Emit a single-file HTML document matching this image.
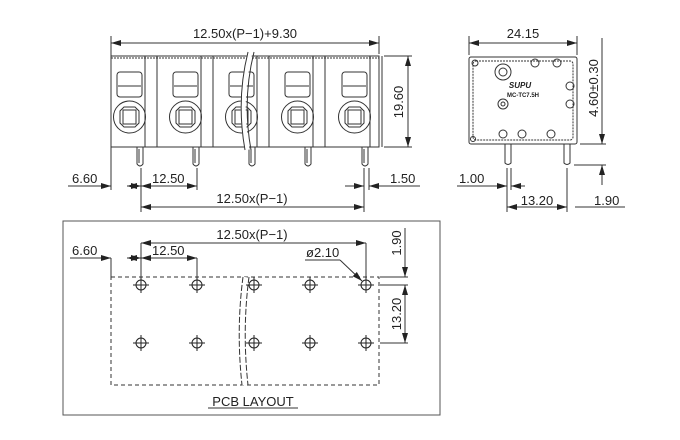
<!DOCTYPE html>
<html><head><meta charset="utf-8"><style>
html,body{margin:0;padding:0;background:#fff;}
svg{display:block;}
text{font-family:"Liberation Sans",sans-serif;font-size:13px;fill:#222;}
</style></head><body>
<svg width="680" height="440" viewBox="0 0 680 440" xmlns="http://www.w3.org/2000/svg">
<defs>
<marker id="a" viewBox="0 0 10 6" refX="10" refY="3" markerWidth="10" markerHeight="6" orient="auto-start-reverse" markerUnits="userSpaceOnUse"><path d="M0,0 L10,3 L0,6 z" fill="#222"/></marker>
<g id="mod" fill="none" stroke="#333" stroke-width="1">
<rect x="117" y="72" width="25" height="25" rx="3"/>
<line x1="118" y1="86" x2="141" y2="86"/>
<circle cx="129.5" cy="117" r="16"/>
<path d="M124,107 H135 L139,111 V123 L135,127 H124 L120,123 V111 Z"/>
<rect x="123" y="110" width="13" height="14"/>
<line x1="145" y1="56" x2="145" y2="147"/>
<line x1="157" y1="56" x2="157" y2="147"/>
<path d="M137,147 V164 Q140,168 143,164 V147"/>
<line x1="139" y1="149" x2="139" y2="163"/>
</g>
<g id="hole" fill="none" stroke="#222"><circle r="5"/><line x1="-8" y1="0" x2="8" y2="0"/><line x1="0" y1="-8" x2="0" y2="8"/></g>
</defs>
<g stroke="#333" fill="none">
<rect x="111" y="56" width="268" height="91"/>
<line x1="111" y1="58" x2="379" y2="58" stroke-dasharray="2,1"/>
<use href="#mod"/><use href="#mod" x="56"/><use href="#mod" x="112"/><use href="#mod" x="168"/><use href="#mod" x="225"/>
<path d="M250,52 Q238,100 247,150" stroke="#fff" stroke-width="5"/>
<path d="M248,52 Q236,100 245,150"/><path d="M254,52 Q242,100 251,150"/>
<line x1="111" y1="36" x2="111" y2="190"/><line x1="379" y1="36" x2="379" y2="54"/>
<line x1="111" y1="43" x2="379" y2="43" marker-start="url(#a)" marker-end="url(#a)"/>
<line x1="384" y1="56" x2="412" y2="56"/><line x1="384" y1="147" x2="412" y2="147"/>
<line x1="408" y1="56" x2="408" y2="147" marker-start="url(#a)" marker-end="url(#a)"/>
<line x1="68" y1="186" x2="111" y2="186"/>
<line x1="97" y1="186" x2="111" y2="186" marker-end="url(#a)"/>
<line x1="127" y1="186" x2="141" y2="186" marker-start="url(#a)" marker-end="url(#a)"/>
<line x1="141" y1="186" x2="197" y2="186" marker-start="url(#a)" marker-end="url(#a)"/>
<line x1="141" y1="168" x2="141" y2="212"/><line x1="197" y1="168" x2="197" y2="190"/>
<line x1="364" y1="168" x2="364" y2="212"/><line x1="369" y1="168" x2="369" y2="190"/>
<line x1="141" y1="207" x2="364" y2="207" marker-start="url(#a)" marker-end="url(#a)"/>
<line x1="345" y1="186" x2="364" y2="186" marker-end="url(#a)"/>
<line x1="388" y1="186" x2="369" y2="186" marker-end="url(#a)"/>
<line x1="388" y1="186" x2="420" y2="186"/>
<rect x="469" y="57" width="108" height="87" rx="2"/>
<rect x="473" y="61" width="100" height="79" rx="3" stroke-dasharray="2,1"/>
<circle cx="475" cy="63" r="3"/><circle cx="535" cy="63" r="4"/><circle cx="557" cy="63" r="4"/>
<circle cx="503" cy="72" r="8"/><circle cx="503" cy="72" r="4"/><circle cx="503" cy="104" r="5"/><circle cx="503" cy="104" r="2"/>
<circle cx="570" cy="86" r="4"/><circle cx="570" cy="104" r="4"/>
<circle cx="473" cy="139" r="2.5"/><circle cx="503" cy="134" r="4"/><circle cx="522" cy="134" r="4"/><circle cx="551" cy="134" r="4"/>
<path d="M505,144 V163 Q508,166 511,163 V144"/><path d="M564,144 V163 Q567,166 570,163 V144"/>
<line x1="469" y1="36" x2="469" y2="55"/><line x1="577" y1="36" x2="577" y2="55"/>
<line x1="469" y1="43" x2="577" y2="43" marker-start="url(#a)" marker-end="url(#a)"/>
<line x1="580" y1="144" x2="606" y2="144"/><line x1="574" y1="165" x2="606" y2="165"/>
<line x1="602" y1="38" x2="602" y2="144" marker-end="url(#a)"/>
<line x1="602" y1="185" x2="602" y2="165" marker-end="url(#a)"/>
<line x1="507" y1="168" x2="507" y2="212"/><line x1="511" y1="168" x2="511" y2="190"/><line x1="567" y1="168" x2="567" y2="212"/>
<line x1="457" y1="186" x2="507" y2="186"/>
<line x1="493" y1="186" x2="507" y2="186" marker-end="url(#a)"/>
<line x1="525" y1="186" x2="511" y2="186" marker-end="url(#a)"/>
<line x1="507" y1="207" x2="567" y2="207" marker-start="url(#a)" marker-end="url(#a)"/>
<line x1="575" y1="207" x2="625" y2="207"/>
<rect x="63" y="221" width="377" height="194" stroke="#555"/>
<rect x="111" y="277" width="268" height="108" stroke-dasharray="4,3"/>
<path d="M245,277 Q238,330 245,385" stroke="#fff" stroke-width="5"/>
<path d="M243,277 Q236,330 242,385" stroke-dasharray="6,2"/><path d="M249,277 Q242,330 248,385" stroke-dasharray="6,2"/>
<line x1="111" y1="258" x2="111" y2="277"/><line x1="141" y1="243" x2="141" y2="282"/><line x1="197" y1="258" x2="197" y2="280"/><line x1="366" y1="243" x2="366" y2="280"/>
<line x1="141" y1="243" x2="366" y2="243" marker-start="url(#a)" marker-end="url(#a)"/>
<line x1="70" y1="258" x2="111" y2="258"/>
<line x1="97" y1="258" x2="111" y2="258" marker-end="url(#a)"/>
<line x1="127" y1="258" x2="141" y2="258" marker-start="url(#a)" marker-end="url(#a)"/>
<line x1="141" y1="258" x2="197" y2="258" marker-start="url(#a)" marker-end="url(#a)"/>
<line x1="305" y1="260" x2="340" y2="260"/><line x1="340" y1="260" x2="362" y2="281" marker-end="url(#a)"/>
<line x1="380" y1="277" x2="408" y2="277"/><line x1="380" y1="285" x2="408" y2="285"/><line x1="380" y1="343" x2="408" y2="343"/>
<line x1="405" y1="228" x2="405" y2="277" marker-end="url(#a)"/>
<line x1="405" y1="285" x2="405" y2="343" marker-start="url(#a)" marker-end="url(#a)"/>
<line x1="208" y1="408" x2="298" y2="408"/>
</g>
<use href="#hole" x="141" y="285"/><use href="#hole" x="197" y="285"/><use href="#hole" x="254" y="285"/><use href="#hole" x="310" y="285"/><use href="#hole" x="366" y="285"/>
<use href="#hole" x="141" y="343"/><use href="#hole" x="197" y="343"/><use href="#hole" x="254" y="343"/><use href="#hole" x="310" y="343"/><use href="#hole" x="366" y="343"/>
<text x="245" y="38" text-anchor="middle">12.50x(P−1)+9.30</text>
<text transform="translate(403,102) rotate(-90)" text-anchor="middle">19.60</text>
<text x="72" y="183">6.60</text>
<text x="152" y="183">12.50</text>
<text x="252" y="203" text-anchor="middle">12.50x(P−1)</text>
<text x="390" y="183">1.50</text>
<text x="523" y="38" text-anchor="middle">24.15</text>
<text transform="translate(598,88) rotate(-90)" text-anchor="middle">4.60±0.30</text>
<text x="459" y="183">1.00</text>
<text x="537" y="205" text-anchor="middle">13.20</text>
<text x="594" y="205">1.90</text>
<text x="520" y="88" text-anchor="middle" style="font-size:8px;font-weight:bold;font-style:italic">SUPU</text>
<text x="523" y="97" text-anchor="middle" style="font-size:6px;font-weight:bold">MC-TC7.5H</text>
<text x="252" y="239" text-anchor="middle">12.50x(P−1)</text>
<text x="72" y="255">6.60</text>
<text x="152" y="255">12.50</text>
<text x="306" y="257">ø2.10</text>
<text transform="translate(401,243) rotate(-90)" text-anchor="middle">1.90</text>
<text transform="translate(401,314) rotate(-90)" text-anchor="middle">13.20</text>
<text x="253" y="406" text-anchor="middle">PCB LAYOUT</text>
</svg>
</body></html>
